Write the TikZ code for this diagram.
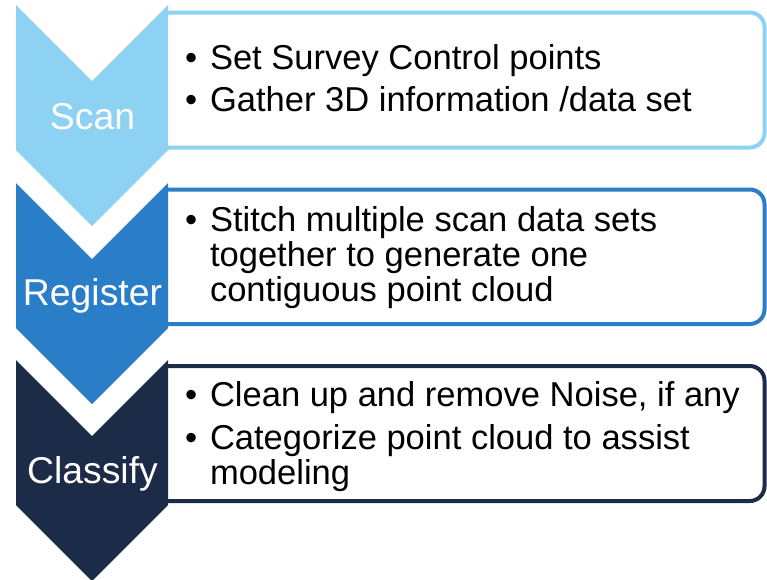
\documentclass[tikz,border=0pt]{standalone}
\usepackage{fontspec}
\setmainfont{Liberation Sans}
\definecolor{cLight}{HTML}{8DD2F3}
\definecolor{cMid}{HTML}{2A7EC8}
\definecolor{cNavy}{HTML}{1B2B48}
\begin{document}
\begin{tikzpicture}[x=0.75pt,y=-0.75pt,
  chev/.style={fill=#1,draw=none},
  infobox/.style={draw=#1,line width=3pt,fill=white,rounded corners=11pt},
  lbl/.style={anchor=base,text=white,inner sep=0pt,outer sep=0pt,font=\fontsize{28}{30}\selectfont},
  txt/.style={anchor=base west,text=black,inner sep=0pt,outer sep=0pt,font=\fontsize{25.9}{27}\selectfont},
]
\useasboundingbox (0,0) rectangle (767,579);
% boxes (left side hidden behind the chevrons)
\draw[infobox=cLight] (166,12.5) -- (764.5,12.5) -- (764.5,147.5) -- (166,147.5);
\draw[infobox=cMid] (166,189.5) -- (764.5,189.5) -- (764.5,324) -- (166,324);
\draw[infobox=cNavy] (166,366) -- (764.5,366) -- (764.5,501) -- (166,501);
% chevrons
\fill[chev=cLight] (16,5) -- (92,81) -- (168,5) -- (168,150) -- (92,226) -- (16,150) -- cycle;
\fill[chev=cMid] (16,183) -- (92,259) -- (168,183) -- (168,328) -- (92,404) -- (16,328) -- cycle;
\fill[chev=cNavy] (16,360) -- (92,436) -- (168,360) -- (168,505) -- (92,581) -- (16,505) -- cycle;
% labels
\node[lbl] (scan) at (92.5,129.3) {Scan};
\node[lbl] (register) at (92.5,305) {Register};
\node[lbl] (classify) at (92.5,483.3) {Classify};
% box 1
\node[txt] (b1a) at (185,69.3) {•};
\node[txt] (t1a) at (210,69.3) {Set Survey Control points};
\node[txt] (b1b) at (185,111.7) {•};
\node[txt] (t1b) at (210,111.7) {Gather 3D information /data set};
% box 2
\node[txt] (b2a) at (185,231.7) {•};
\node[txt] (t2a) at (210,231.7) {Stitch multiple scan data sets};
\node[txt] (t2b) at (210,266.7) {together to generate one};
\node[txt] (t2c) at (210,301.7) {contiguous point cloud};
% box 3
\node[txt] (b3a) at (185,406.7) {•};
\node[txt] (t3a) at (210,406.7) {Clean up and remove Noise, if any};
\node[txt] (b3b) at (185,449) {•};
\node[txt] (t3b) at (210,449) {Categorize point cloud to assist};
\node[txt] (t3c) at (210,484) {modeling};
\end{tikzpicture}
\end{document}
